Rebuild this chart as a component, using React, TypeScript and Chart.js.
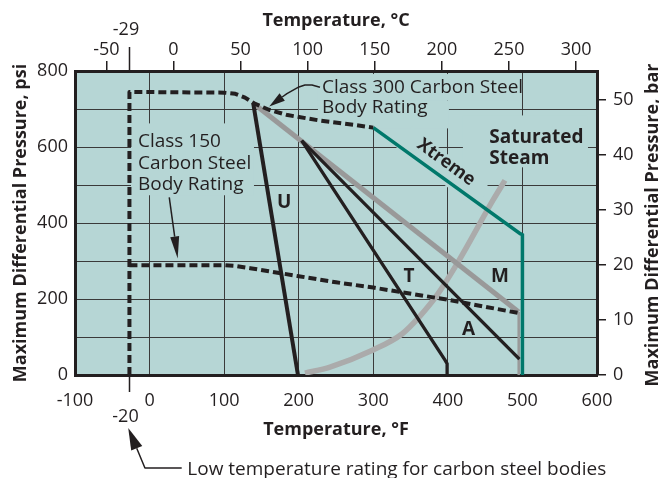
import React, { useEffect, useRef } from 'react';
import { Chart, registerables } from 'chart.js';

Chart.register(...registerables);

// ---------- data ----------
const lowTempF = -27; // position of the -20 °F / -29 °C low-temperature line as drawn
const fTicks = [-100, 0, 100, 200, 300, 400, 500, 600];
const cTicks = [-50, 0, 50, 100, 150, 200, 250, 300];
const psiTicks = [0, 200, 400, 600, 800];
const barTicks = [0, 10, 20, 30, 40, 50];

const class300Temps = [lowTempF, lowTempF, 100, 115, 128, 140, 160, 185, 230, 275, 300];
const class300Psi = [0, 745, 743, 740, 730, 715, 698, 684, 669, 658, 651];

const class150Temps = [lowTempF, 100, 115, 135, 160, 200, 250, 300, 400, 495];
const class150Psi = [289, 289, 287, 281, 273, 260, 244, 230, 198, 163];

const xtremeTemps = [300, 497, 500, 500];
const xtremePsi = [651, 372, 369, 0];

const uTemps = [139, 199];
const uPsi = [715, 0];

const tTemps = [204, 396, 399, 399];
const tPsi = [617, 40, 30, 0];

const aTemps = [204, 496];
const aPsi = [617, 42];

const mTemps = [139, 495, 495];
const mPsi = [715, 166, 0];

const steamTemps = [208.4, 241.9, 299.6, 338.5, 362.6, 385.4, 413.6, 460.5, 476.6];
const steamPsi = [5, 21, 66, 108, 155, 210, 297, 460, 512];

const PSI_PER_BAR = 14.5038;
const fToC = (f: number) => (f - 32) / 1.8;

// ---------- styles ----------
const INK = '#231f20';
const BG = '#b6d6d5';
const GRID = '#3a3a3a';
const TEAL = '#00786b';
const FAM = "'Open Sans', sans-serif";
const REG18 = `18px ${FAM}`;
const REG19 = `19px ${FAM}`;
const BOLD18 = `bold 18px ${FAM}`;
const BOLD19 = `bold 19px ${FAM}`;

const pts = (xs: number[], ys: number[]) => xs.map((x, i) => ({ x, y: ys[i] }));

function arrow(ctx: CanvasRenderingContext2D, p: number[][], headLen: number, headW: number) {
  const n = p.length;
  const tip = p[n - 1];
  const prev = p[n - 2];
  const dx = tip[0] - prev[0];
  const dy = tip[1] - prev[1];
  const len = Math.hypot(dx, dy);
  const ux = dx / len;
  const uy = dy / len;
  const bx = tip[0] - ux * headLen;
  const by = tip[1] - uy * headLen;
  ctx.beginPath();
  ctx.moveTo(p[0][0], p[0][1]);
  for (let i = 1; i < n - 1; i++) ctx.lineTo(p[i][0], p[i][1]);
  ctx.lineTo(bx, by);
  ctx.stroke();
  ctx.beginPath();
  ctx.moveTo(tip[0], tip[1]);
  ctx.lineTo(bx - (uy * headW) / 2, by + (ux * headW) / 2);
  ctx.lineTo(bx + (uy * headW) / 2, by - (ux * headW) / 2);
  ctx.closePath();
  ctx.fill();
}

const annotationPlugin = {
  id: 'valveAnnotations',
  beforeDraw(chart: any) {
    const { ctx, chartArea: a } = chart;
    ctx.save();
    ctx.fillStyle = BG;
    ctx.fillRect(a.left, a.top, a.right - a.left, a.bottom - a.top);
    ctx.restore();
  },
  beforeDatasetsDraw(chart: any) {
    const { ctx } = chart;
    const X = (v: number) => chart.scales.x.getPixelForValue(v);
    const Y = (v: number) => chart.scales.y.getPixelForValue(v);
    ctx.save();
    ctx.fillStyle = BG;
    const rect = (x0: number, x1: number, yTop: number, yBot: number) =>
      ctx.fillRect(X(x0), Y(yTop), X(x1) - X(x0), Y(yBot) - Y(yTop));
    rect(225.8, 497.9, 792, 722.5);
    rect(225.8, 401.4, 722.5, 649);
    rect(420.2, 587.9, 683.1, 546.5);
    rect(-24.9, 140, 662.1, 473);
    ctx.translate(X(393.5), Y(546.5));
    ctx.rotate((38 * Math.PI) / 180);
    ctx.fillRect(-50, -13, 100, 26);
    ctx.restore();
  },
  afterDraw(chart: any) {
    const { ctx, chartArea: a } = chart;
    const X = (v: number) => chart.scales.x.getPixelForValue(v);
    const Y = (v: number) => chart.scales.y.getPixelForValue(v);
    ctx.save();
    ctx.fillStyle = INK;
    ctx.strokeStyle = INK;

    const label = (s: string, x: number, y: number, font: string, align: CanvasTextAlign = 'left') => {
      ctx.font = font;
      ctx.textAlign = align;
      ctx.textBaseline = 'alphabetic';
      ctx.fillText(s, X(x), Y(y));
    };

    // axis titles
    const cx = (a.left + a.right) / 2;
    const cy = (a.top + a.bottom) / 2;
    ctx.font = BOLD18;
    ctx.textAlign = 'center';
    ctx.textBaseline = 'alphabetic';
    ctx.fillText('Temperature, °C', cx, 26);
    ctx.fillText('Temperature, °F', cx, a.bottom + 60);
    ctx.save();
    ctx.translate(26, cy);
    ctx.rotate(-Math.PI / 2);
    ctx.fillText('Maximum Differential Pressure, psi', 0, 0);
    ctx.restore();
    ctx.save();
    ctx.translate(658, cy + 2);
    ctx.rotate(-Math.PI / 2);
    ctx.fillText('Maximum Differential Pressure, bar', 0, 0);
    ctx.restore();

    // low temperature special ticks
    const lx = Math.round(X(lowTempF)) + 0.5;
    ctx.lineWidth = 1.5;
    ctx.beginPath();
    ctx.moveTo(lx, a.top - 24);
    ctx.lineTo(lx, a.top);
    ctx.moveTo(lx, a.bottom);
    ctx.lineTo(lx, a.bottom + 17);
    ctx.stroke();
    ctx.font = REG18;
    ctx.textAlign = 'center';
    ctx.fillText('-29', X(-31.6), a.top - 36);
    ctx.fillText('-20', X(-32.3), a.bottom + 47);

    // in-plot labels
    label('Class 300 Carbon Steel', 231.2, 741, REG19);
    label('Body Rating', 231.2, 688.4, REG19);
    label('Class 150', -15.6, 600, REG19);
    label('Carbon Steel', -15.6, 541.2, REG19);
    label('Body Rating', -15.6, 486, REG19);
    label('Saturated', 455.5, 610.4, BOLD19);
    label('Steam', 455.5, 554.4, BOLD19);
    label('U', 180.4, 438.8, BOLD19, 'center');
    label('T', 347.9, 244.4, BOLD19, 'center');
    label('M', 470, 244.4, BOLD19, 'center');
    label('A', 427.6, 105.1, BOLD19, 'center');

    ctx.save();
    ctx.translate(X(397.6), Y(559.6));
    ctx.rotate((36 * Math.PI) / 180);
    ctx.font = BOLD18;
    ctx.textAlign = 'center';
    ctx.textBaseline = 'middle';
    ctx.fillText('Xtreme', 0, 0);
    ctx.restore();

    // arrows
    ctx.lineWidth = 1.5;
    ctx.lineJoin = 'round';
    const P = (q: number[][]) => q.map(([x, y]) => [X(x), Y(y)]);
    arrow(ctx, P([[228.5, 757], [217.8, 763.3], [208.4, 763.3], [200.3, 758], [184.2, 740.6], [160.5, 706.8]]), 16, 9);
    arrow(ctx, P([[26.4, 467.7], [37.7, 306.6]]), 22, 9);
    arrow(ctx, [[X(43.1), a.bottom + 93], [X(-6.2), a.bottom + 93], [X(-28.6), a.bottom + 53]], 22, 12);

    ctx.font = REG19;
    ctx.textAlign = 'left';
    ctx.textBaseline = 'alphabetic';
    ctx.fillText('Low temperature rating for carbon steel bodies', X(50.6), a.bottom + 100);

    ctx.restore();
  },
};

export default function App() {
  const ref = useRef<HTMLCanvasElement>(null);

  useEffect(() => {
    const canvas = ref.current;
    if (!canvas) return;
    Chart.defaults.font.family = FAM;
    const line = (data: any, color: string, width: number, extra: any = {}) => ({
      data,
      borderColor: color,
      borderWidth: width,
      pointRadius: 0,
      fill: false,
      tension: 0,
      borderCapStyle: 'butt',
      borderJoinStyle: 'miter',
      ...extra,
    });
    const chart = new Chart(canvas, {
      type: 'line',
      data: {
        datasets: [
          line(pts(class300Temps, class300Psi), INK, 4, { borderDash: [8, 4], borderJoinStyle: 'round' }),
          line(pts(class150Temps, class150Psi), INK, 4, { borderDash: [8, 4], borderJoinStyle: 'round' }),
          line(pts(xtremeTemps, xtremePsi), TEAL, 3.5),
          line(pts(uTemps, uPsi), INK, 4),
          line(pts(tTemps, tPsi), INK, 3.3),
          line(pts(aTemps, aPsi), INK, 3.3),
          line(pts(mTemps, mPsi), '#999999', 5, {
            segment: { borderWidth: (c: any) => (c.p0DataIndex >= 1 ? 2.5 : 5) },
          }),
          line(pts(steamTemps, steamPsi), '#ababab', 5.5, { cubicInterpolationMode: 'monotone' }),
        ] as any,
      },
      options: {
        animation: false,
        responsive: false,
        events: [],
        layout: { padding: 0 },
        plugins: {
          legend: { display: false },
          tooltip: { enabled: false },
          title: { display: false },
        },
        scales: {
          x: {
            type: 'linear',
            position: 'bottom',
            min: fTicks[0],
            max: fTicks[fTicks.length - 1],
            afterBuildTicks: (s: any) => {
              s.ticks = fTicks.map((v) => ({ value: v }));
            },
            ticks: { padding: 15, color: INK, font: { size: 18 }, autoSkip: false, maxRotation: 0, callback: (v: any) => String(v) },
            grid: { color: GRID, lineWidth: 1, drawTicks: false },
            border: { color: INK, width: 3 },
            afterFit: (s: any) => {
              s.height = 103;
            },
          },
          x2: {
            type: 'linear',
            axis: 'x',
            position: 'top',
            min: fToC(fTicks[0]),
            max: fToC(fTicks[fTicks.length - 1]),
            afterBuildTicks: (s: any) => {
              s.ticks = cTicks.map((v) => ({ value: v }));
            },
            ticks: { padding: 0, color: INK, font: { size: 18 }, autoSkip: false, maxRotation: 0, callback: (v: any) => String(v) },
            grid: { drawOnChartArea: false, drawTicks: true, tickLength: 10, color: INK, tickColor: INK, lineWidth: 1.5 },
            border: { color: INK, width: 3 },
            afterFit: (s: any) => {
              s.height = 71;
            },
          },
          y: {
            type: 'linear',
            position: 'left',
            min: 0,
            max: 800,
            ticks: {
              stepSize: 100,
              padding: 7,
              color: INK,
              font: { size: 18 },
              autoSkip: false,
              callback: (v: any) => (psiTicks.includes(Number(v)) ? String(v) : ''),
            },
            grid: { color: GRID, lineWidth: 1, drawTicks: false },
            border: { color: INK, width: 3 },
            afterFit: (s: any) => {
              s.width = 75;
            },
          },
          y2: {
            type: 'linear',
            axis: 'y',
            position: 'right',
            min: 0,
            max: 800 / PSI_PER_BAR,
            afterBuildTicks: (s: any) => {
              s.ticks = barTicks.map((v) => ({ value: v }));
            },
            ticks: { padding: 7, color: INK, font: { size: 18 }, autoSkip: false, callback: (v: any) => String(v) },
            grid: { drawOnChartArea: false, drawTicks: true, tickLength: 9, color: INK, tickColor: INK, lineWidth: 1.5 },
            border: { color: INK, width: 3 },
            afterFit: (s: any) => {
              s.width = 62;
            },
          },
        },
      } as any,
      plugins: [annotationPlugin as any],
    });
    return () => chart.destroy();
  }, []);

  return (
    <div style={{ position: 'fixed', left: 0, top: 0, width: 659, height: 478, background: '#ffffff' }}>
      <canvas ref={ref} width={659} height={478} style={{ display: 'block', width: 659, height: 478 }} />
    </div>
  );
}
